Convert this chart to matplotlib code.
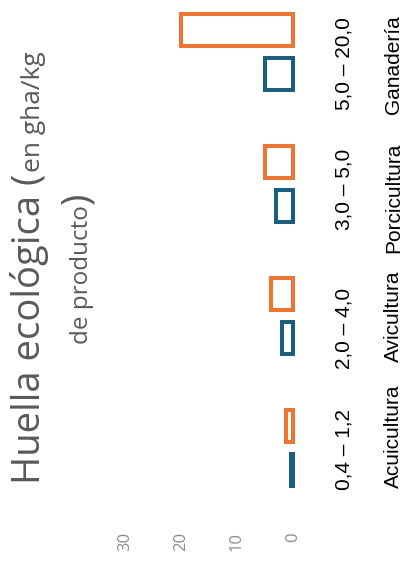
import matplotlib
matplotlib.use("Agg")
import matplotlib.pyplot as plt
import numpy as np

# data
categories = ["Acuicultura", "Avicultura", "Porcicultura", "Ganadería"]
range_labels = ["0,4 – 1,2", "2,0 – 4,0", "3,0 – 5,0", "5,0 – 20,0"]
min_vals = [0.4, 2.0, 3.0, 5.0]
max_vals = [1.2, 4.0, 5.0, 20.0]
ticks = [0, 10, 20, 30]

orange = "#ED7532"
blue = "#1A5F80"
title_gray = "#595959"
tick_gray = "#8C8C8C"

W, H = 403, 573
fig = plt.figure(figsize=(W / 100, H / 100), dpi=100)

# axes placed in pixel terms (from top-left of the picture)
ax_left, ax_right, ax_top, ax_bot = 100, 310, 0, 525
ax = fig.add_axes([ax_left / W, 1 - ax_bot / H, (ax_right - ax_left) / W, (ax_bot - ax_top) / H])

# 0 at x=293px, 10 units = 56px ; group spacing 132px, Acuicultura centred at y=448px
px_per_unit = 5.6
ax.set_xlim((293 - ax_left) / px_per_unit, (293 - ax_right) / px_per_unit)
ax.set_ylim((448 - ax_bot) / 132, (448 - ax_top) / 132)

pos = np.arange(len(categories))
off, bh = 0.17, 0.242
ax.barh(pos + off, max_vals, height=bh, color="white", edgecolor=orange, linewidth=2.9)
ax.barh(pos - off, min_vals, height=bh, color="white", edgecolor=blue, linewidth=2.9)

for s in ax.spines.values():
    s.set_visible(False)
ax.set_yticks([])
ax.set_xticks(ticks)
ax.set_xticklabels([str(t) for t in ticks], rotation=90, color=tick_gray,
                   fontsize=12, family="Open Sans")
ax.tick_params(axis="x", length=0, pad=5)


def ptext(x, y, s, **kw):
    # place rotated text using pixel coordinates measured from the top-left
    return fig.text(x / W, 1 - y / H, s, rotation=90, rotation_mode="anchor", **kw)


# range and category labels
range_y = [450, 328, 189, 64]
cat_y = [436, 316, 198, 65]
for s, y in zip(range_labels, range_y):
    ptext(350, y, s, ha="center", va="baseline", fontsize=15, family="Liberation Sans", color="black")
for s, y in zip(categories, cat_y):
    ptext(399, y, s, ha="center", va="baseline", fontsize=15, family="Liberation Sans", color="black")

# title, two lines, built from pieces of two sizes
big = 27.5
t1 = ptext(40, 484, "Huella ecológica (", ha="left", va="baseline", fontsize=big,
           family="Open Sans", color=title_gray)
fig.canvas.draw()
r = fig.canvas.get_renderer()
bb = t1.get_window_extent(r)
ptext(40, H - bb.y1 - 2, "en gha/kg", ha="left", va="baseline", fontsize=19,
      family="Open Sans", color=title_gray)

t3 = ptext(88, 344, "de producto", ha="left", va="baseline", fontsize=17.5,
           family="Open Sans", color=title_gray)
fig.canvas.draw()
bb = t3.get_window_extent(r)
ptext(88, H - bb.y1 - 1, ")", ha="left", va="baseline", fontsize=big,
      family="Open Sans", color=title_gray)

fig.savefig("out.png", dpi=100)
